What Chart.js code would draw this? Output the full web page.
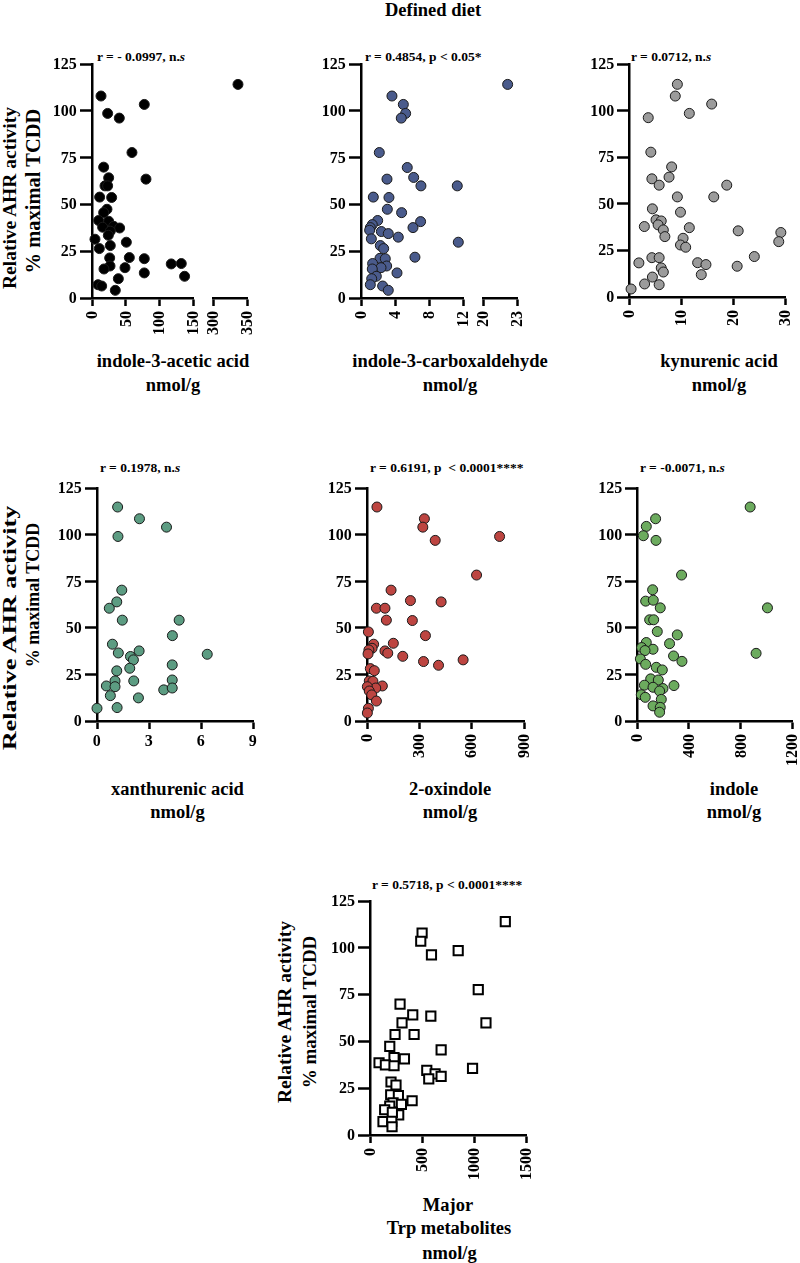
<!DOCTYPE html>
<html>
<head>
<meta charset="utf-8">
<script src="https://cdn.jsdelivr.net/npm/chart.js@4.4.1/dist/chart.umd.min.js"></script>
<style>
body { margin: 0; width: 800px; height: 1263px; position: relative; overflow: hidden; background: #fff;
       font-family: "Liberation Serif", "Times New Roman", serif; font-weight: bold; color: #000; }
canvas { position: absolute; }
.t { position: absolute; white-space: nowrap; line-height: 1; }
.c { transform: translate(-50%, -50%); }
.l { transform: translate(0, -50%); }
.v { transform: translate(-50%, -50%) rotate(-90deg); }
.tk { position: absolute; white-space: nowrap; line-height: 1; font-size: 16px; transform-origin: 0 0; }
.tk.rot { transform: rotate(-90deg) translate(-100%, -50%); }
</style>
</head>
<body>

<div class="t c" style="left:433px;top:10px;font-size:18.5px">Defined diet</div>

<!-- row 1 -->
<div class="t l" style="left:97px;top:57px;font-size:13.5px">r = - 0.0997, n.<i>s</i></div>
<div class="t l" style="left:365px;top:57px;font-size:13.5px">r = 0.4854, p &lt; 0.05*</div>
<div class="t l" style="left:631px;top:57px;font-size:13.5px">r = 0.0712, n.<i>s</i></div>
<div class="t v" style="left:9.5px;top:198px;font-size:19.5px">Relative AHR activity</div>
<div class="t v" style="left:32.5px;top:191px;font-size:20.5px">% maximal TCDD</div>
<div class="t c" style="left:173px;top:361px;font-size:18.5px">indole-3-acetic acid</div>
<div class="t c" style="left:173px;top:385px;font-size:18.5px">nmol/g</div>
<div class="t c" style="left:450px;top:361px;font-size:18.5px">indole-3-carboxaldehyde</div>
<div class="t c" style="left:450px;top:385px;font-size:18.5px">nmol/g</div>
<div class="t c" style="left:719px;top:361px;font-size:18.5px">kynurenic acid</div>
<div class="t c" style="left:719px;top:385px;font-size:18.5px">nmol/g</div>

<!-- row 2 -->
<div class="t l" style="left:100px;top:467.5px;font-size:13.5px">r = 0.1978, n.<i>s</i></div>
<div class="t l" style="left:370px;top:467.5px;font-size:13.5px">r = 0.6191, p &nbsp;&lt; 0.0001****</div>
<div class="t l" style="left:640px;top:467.5px;font-size:13.5px">r = -0.0071, n.<i>s</i></div>
<div class="t v" style="left:9.2px;top:628px;font-size:19px;transform:translate(-50%,-50%) rotate(-90deg) scaleX(1.38)">Relative AHR activity</div>
<div class="t v" style="left:32.5px;top:595px;font-size:18px">% maximal TCDD</div>
<div class="t c" style="left:177.5px;top:789px;font-size:18.5px">xanthurenic acid</div>
<div class="t c" style="left:177.5px;top:812px;font-size:18.5px">nmol/g</div>
<div class="t c" style="left:450px;top:789px;font-size:18.5px">2-oxindole</div>
<div class="t c" style="left:450px;top:812px;font-size:18.5px">nmol/g</div>
<div class="t c" style="left:734px;top:789px;font-size:18.5px">indole</div>
<div class="t c" style="left:734px;top:812px;font-size:18.5px">nmol/g</div>

<!-- row 3 -->
<div class="t l" style="left:372px;top:885px;font-size:13.5px">r = 0.5718, p &lt; 0.0001****</div>
<div class="t v" style="left:285px;top:1012px;font-size:19.5px">Relative AHR activity</div>
<div class="t v" style="left:308.5px;top:1012px;font-size:19px">% maximal TCDD</div>
<div class="t c" style="left:448px;top:1205px;font-size:18.5px">Major</div>
<div class="t c" style="left:449px;top:1228px;font-size:18.5px">Trp metabolites</div>
<div class="t c" style="left:449.5px;top:1253px;font-size:18.5px">nmol/g</div>

<canvas id="p1"></canvas>
<canvas id="p2"></canvas>
<canvas id="p3"></canvas>
<canvas id="p4"></canvas>
<canvas id="p5"></canvas>
<canvas id="p6"></canvas>
<canvas id="p7"></canvas>

<script>
// AHR activity axis, same on every panel
var yTicks = [0, 25, 50, 75, 100, 125];

// indole-3-acetic acid (broken axis 0-150 | 300-350)
var iaaTicks = [0, 50, 100, 150];
var iaaTicksHi = [300, 350];
var iaaX = [336.5, 13.3, 77.2, 23.1, 40.3, 59, 79.7, 17.2, 24.6, 19.2, 23.1, 11.3, 29, 22.1, 17.2, 9.8, 24.6, 15.7, 32, 40.8,
            27, 24.1, 50.7, 4.4, 10.8, 27, 26.1, 55.1, 77.2, 26.6, 17.7, 48.7, 117, 131.8, 136.7, 77.2, 38.9, 8.9, 14.3, 34.4];
var iaaY = [114.1, 107.9, 103.4, 98.6, 96.1, 77.7, 63.5, 69.9, 64.2, 59.9, 59.9, 53.9, 53.7, 47.4, 45.6, 41.4, 41.0, 37.8, 38.3, 37.4,
            35.7, 33.5, 29.8, 31.4, 26.4, 28, 21.4, 21.6, 21.0, 17.1, 15.5, 16.2, 18.2, 18.4, 11.6, 13.4, 10.3, 7.1, 6.4, 4.1];

// indole-3-carboxaldehyde (broken axis 0-12 | 20-23)
var i3aTicks = [0, 4, 8, 12];
var i3aTicksHi = [20, 23];
var i3aX = [22.16, 3.62, 4.95, 5.22, 4.71, 2.14, 5.41, 3.04, 6.16, 7.01, 11.26, 1.44, 3.27, 3.08, 4.75, 1.95, 6.97, 1.32, 1.09, 6.08, 1.01,
            2.38, 3.19, 4.36, 1.21, 11.38, 2.26, 2.65, 6.31, 2.22, 2.84, 1.36, 3.0, 2.34, 1.32, 4.21, 1.79, 1.25, 1.09, 2.53, 3.19];
var i3aY = [114.1, 107.9, 103.4, 98.6, 96.1, 77.7, 69.7, 63.5, 64.4, 59.9, 59.9, 53.9, 53.7, 47.4, 45.6, 41.4, 40.8, 39.2, 37.6, 37.6, 36.2,
            35.5, 34.4, 32.5, 31.6, 29.8, 28, 26.4, 21.8, 21.2, 21.0, 18.4, 17.1, 16.2, 15.5, 13.4, 11.6, 10.3, 7.1, 6.4, 4.1];

// kynurenic acid
var kynaTicks = [0, 10, 20, 30];
var kynaX = [9.3, 8.9, 15.9, 11.6, 3.7, 4.2, 8.2, 4.4, 7.7, 5.8, 18.8, 9.3, 16.3, 4.5, 9.9, 5.2, 6.2, 5.6, 2.95, 11.6, 6.6,
             21, 29.2, 6.9, 10.4, 28.8, 9.9, 10.9, 4.4, 5.8, 24.1, 1.9, 13.2, 14.8, 20.8, 6.2, 6.6, 13.9, 4.5, 3, 5.8, 0.4];
var kynaY = [114.1, 107.8, 103.5, 98.5, 96.2, 77.7, 69.8, 63.4, 64.3, 60, 60, 53.7, 53.7, 47.3, 45.5, 41.4, 40.8, 38.7, 37.8, 37.2, 36,
             35.5, 34.6, 32.4, 31.5, 29.7, 27.9, 26.7, 21.1, 21.1, 21.7, 18.3, 18.4, 17.4, 16.5, 15.6, 13.4, 12, 10.7, 7, 6.6, 4.3];

// xanthurenic acid
var xaTicks = [0, 3, 6, 9];
var xaX = [1.19, 2.45, 4.01, 1.21, 1.43, 1.14, 0.71, 1.46, 4.74, 4.35, 0.89, 1.23, 2.43, 6.36, 1.93,
           2.1, 4.34, 1.89, 1.14, 4.34, 1.04, 2.12, 0.54, 1.04, 3.85, 4.34, 0.77, 2.39, 1.16, 0];
var xaY = [114.8, 108.5, 104, 99, 70.2, 63.9, 60.5, 54.1, 54.1, 45.8, 41.2, 36.5, 37.6, 35.8, 34.6,
           32.8, 30.1, 28.3, 26.9, 22, 21.5, 21.5, 18.8, 18.4, 16.7, 17.7, 13.6, 12.4, 7.2, 6.8];

// 2-oxindole
var oxTicks = [0, 300, 600, 900];
var oxX = [57, 329, 320, 760, 391, 628, 138, 249, 425, 54, 103, 111, 260, 8, 335, 151, 38, 29, 11,
           103, 119, 6, 205, 551, 324, 410, 19, 42, 13, 34, 88, 50, 2, 13, 27, 54, 8, 2];
var oxY = [114.8, 108.5, 104, 99, 96.9, 78.3, 70.2, 64.6, 63.9, 60.5, 60.5, 54.1, 53.9, 47.8, 45.8, 41.7, 41.2, 39, 38.1,
           37.6, 36.4, 36, 34.7, 32.8, 31.9, 29.9, 28.1, 27, 21.5, 21.3, 18.8, 17.7, 18.4, 16.1, 14, 10.7, 6.8, 4.3];

// indole
var indTicks = [0, 400, 800, 1200];
var indX = [876, 144, 72, 49, 147, 345, 121, 67, 126, 180, 1010, 98, 129, 157, 312, 72, 252, 36, 124, 62,
            26, 283, 348, 67, 922, 149, 196, 106, 165, 57, 286, 124, 201, 175, 33, 64, 188, 124, 180, 175];
var indY = [114.8, 108.5, 104.4, 99.4, 96.9, 78.3, 70.4, 64.3, 64.8, 60.7, 60.7, 54.3, 54.3, 48, 46.2, 42.1, 41.5, 39.4, 38.5, 37.8,
            33.3, 34.9, 32, 30.4, 36.3, 28.8, 27.4, 22.6, 22, 19.2, 19, 18.1, 17.4, 16.1, 14.1, 12.7, 11.6, 8.1, 7.3, 4.7];

// major Trp metabolites
var trpTicks = [0, 500, 1000, 1500];
var trpX = [1301, 501, 488, 848, 591, 1041, 289, 411, 585, 308, 1115, 241, 424, 190, 684, 231, 331, 87, 148, 231,
            986, 546, 626, 684, 565, 202, 250, 199, 273, 405, 222, 302, 190, 141, 276, 215, 125, 209, 212];
var trpY = [114, 107.9, 103.5, 98.5, 96.2, 77.7, 69.9, 64.2, 63.5, 59.9, 59.9, 53.7, 53.7, 47.3, 45.5, 41.3, 40.7, 38.6, 37.5, 37,
            35.6, 34.5, 32.7, 31.3, 30, 28.3, 26.7, 21.5, 21, 18.3, 17.2, 16.4, 15.5, 13.5, 10.7, 12.1, 7.1, 7.3, 4.4];

// ---- layout ----
var YW = 60, PT = 20, PR = 14, XH = 70;
var XTICK = 8, YTICK = 12;

function useTicks(list) {
    return function(s) { s.ticks = list.map(function(v) { return { value: v }; }); };
}

function xScale(min, max, list, extra) {
    return Object.assign({
        type: 'linear', position: 'bottom', min: min, max: max,
        afterBuildTicks: useTicks(list),
        afterFit: function(s) { s.height = XH; },
        ticks: { display: false, autoSkip: false },
        grid: { drawOnChartArea: false, tickLength: XTICK, tickWidth: 2.5, tickColor: '#000' },
        border: { color: '#000', width: 2.5 }
    }, extra || {});
}

function yScale() {
    return {
        type: 'linear', position: 'left', min: 0, max: 125,
        afterBuildTicks: useTicks(yTicks),
        afterFit: function(s) { s.width = YW; },
        ticks: { display: false },
        grid: { drawOnChartArea: false, tickLength: YTICK, tickWidth: 2.5, tickColor: '#000' },
        border: { color: '#000', width: 2.5 }
    };
}

function series(xs, ys, keep, fill, axis, extra) {
    var data = [];
    xs.forEach(function(x, i) { if (keep(x)) data.push({ x: x, y: ys[i] }); });
    return Object.assign({
        data: data, xAxisID: axis, yAxisID: 'y',
        backgroundColor: fill, borderColor: '#1a1a1a', borderWidth: 1,
        pointRadius: 5, pointHoverRadius: 5, clip: false
    }, extra || {});
}

function all() { return true; }

// tick label as page text, placed from the chart's own scale
function tickLabel(text, x, y, mode) {
    var d = document.createElement('div');
    d.className = mode === 'rot' ? 'tk rot' : 'tk';
    d.textContent = text;
    d.style.left = x + 'px';
    d.style.top = y + 'px';
    if (mode === 'y') d.style.transform = 'translate(-100%, -50%)';
    else if (mode === 'x') d.style.transform = 'translate(-50%, 0)';
    document.body.appendChild(d);
}

function panel(id, box, datasets, scales, rotated) {
    var cv = document.getElementById(id);
    var w = Math.round(box.R - box.L), h = Math.round(box.B - box.T);
    var ox = box.L - YW, oy = box.T - PT;
    cv.width = w + YW + PR;
    cv.height = h + PT + XH;
    cv.style.left = ox + 'px';
    cv.style.top = oy + 'px';
    scales.y = yScale();
    var chart = new Chart(cv, {
        type: 'scatter',
        data: { datasets: datasets },
        options: {
            responsive: false, animation: false, events: [],
            layout: { padding: { top: PT, right: PR, bottom: 0, left: 0 } },
            plugins: { legend: { display: false }, tooltip: { enabled: false } },
            scales: scales
        }
    });
    Object.keys(chart.scales).forEach(function(k) {
        var s = chart.scales[k];
        if (k === 'gap') return;
        s.ticks.forEach(function(t) {
            var p = s.getPixelForValue(t.value);
            if (s.isHorizontal()) {
                tickLabel(String(t.value), ox + p, oy + s.top + XTICK + (rotated ? 5 : 4), rotated ? 'rot' : 'x');
            } else {
                tickLabel(String(t.value), ox + s.right - YTICK - 3, oy + p, 'y');
            }
        });
    });
}

// broken axes: three stacked bottom scales (low part, empty gap, high part)
panel('p1', { L: 91.7, T: 64, R: 246.7, B: 297.7 }, [
    series(iaaX, iaaY, function(x) { return x < 300; }, '#000', 'x'),
    series(iaaX, iaaY, function(x) { return x >= 300; }, '#000', 'x2')
], {
    x: xScale(0, 150, iaaTicks, { stack: 'brk', stackWeight: 101.6 }),
    gap: { type: 'linear', position: 'bottom', display: false, stack: 'brk', stackWeight: 20 },
    x2: xScale(300, 350, iaaTicksHi, { stack: 'brk', stackWeight: 33.4 })
}, true);

panel('p2', { L: 360.7, T: 64, R: 516.7, B: 297.7 }, [
    series(i3aX, i3aY, function(x) { return x < 20; }, '#4a5b8c', 'x'),
    series(i3aX, i3aY, function(x) { return x >= 20; }, '#4a5b8c', 'x2')
], {
    x: xScale(0, 12, i3aTicks, { stack: 'brk', stackWeight: 102.6 }),
    gap: { type: 'linear', position: 'bottom', display: false, stack: 'brk', stackWeight: 20 },
    x2: xScale(20, 23, i3aTicksHi, { stack: 'brk', stackWeight: 33.4 })
}, true);

panel('p3', { L: 629.3, T: 64, R: 785, B: 297.2 }, [
    series(kynaX, kynaY, all, '#9b9b9b', 'x')
], { x: xScale(0, 30, kynaTicks) }, true);

panel('p4', { L: 96.7, T: 488.3, R: 252.3, B: 721 }, [
    series(xaX, xaY, all, '#5c9c82', 'x')
], { x: xScale(0, 9, xaTicks) }, false);

panel('p5', { L: 366.7, T: 488.3, R: 523.3, B: 721 }, [
    series(oxX, oxY, all, '#bd4541', 'x')
], { x: xScale(0, 900, oxTicks) }, true);

panel('p6', { L: 637.3, T: 488.3, R: 792.7, B: 721 }, [
    series(indX, indY, all, '#6cab5e', 'x')
], { x: xScale(0, 1200, indTicks) }, true);

panel('p7', { L: 370, T: 900.7, R: 525.7, B: 1135 }, [
    series(trpX, trpY, all, '#ffffff', 'x', { pointStyle: 'rect', pointRadius: 6.5, pointHoverRadius: 6.5, borderWidth: 2, borderColor: '#000' })
], { x: xScale(0, 1500, trpTicks) }, true);
</script>
</body>
</html>
